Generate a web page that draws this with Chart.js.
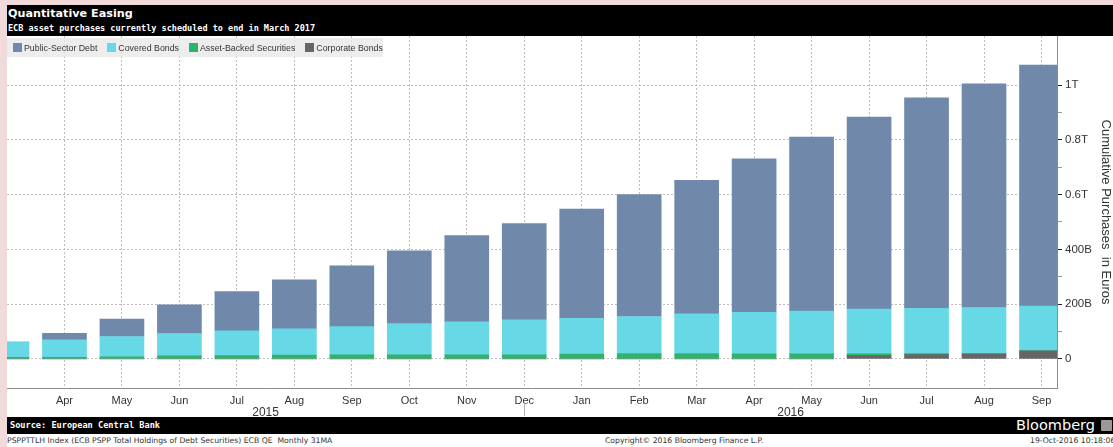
<!DOCTYPE html>
<html>
<head>
<meta charset="utf-8">
<title>Quantitative Easing</title>
<script src="https://cdn.jsdelivr.net/npm/chart.js@4.4.1/dist/chart.umd.min.js"></script>
<style>
  html, body { margin: 0; padding: 0; }
  body { width: 1113px; height: 447px; background: #f1dada; position: relative; overflow: hidden; font-family: "Liberation Sans", Arial, sans-serif; }
  .abs { position: absolute; }
  #titleBar { left: 7px; top: 5px; width: 1106px; height: 31px; background: #000; color: #fff; }
  #title { left: 1px; top: 2px; font: bold 11.2px "DejaVu Sans", sans-serif; white-space: nowrap; }
  #subtitle { left: 1px; top: 18px; font: bold 8.5px "DejaVu Sans Mono", monospace; white-space: nowrap; }
  #plot { left: 7px; top: 36px; width: 1106px; height: 381px; background: #fff; }
  #plot canvas { display: block; }
  #legend { left: 7px; top: 38px; width: 376px; height: 19px; background: rgba(232,232,232,0.8); display: flex; align-items: center; font-size: 8.8px; color: #333; white-space: nowrap; }
  #legend .item { display: flex; align-items: center; margin-left: 10px; }
  #legend .item:first-child { margin-left: 6px; }
  #legend .sw { width: 9px; height: 9px; margin-right: 2px; }
  #footer { left: 7px; top: 417px; width: 1106px; height: 17px; background: #000; color: #fff; }
  #source { left: 3px; top: 0; font: bold 8.6px/17px "DejaVu Sans Mono", monospace; white-space: nowrap; }
  #brand { right: 18px; top: 0; font: 14.5px/17px "DejaVu Sans", sans-serif; white-space: nowrap; }
  #icon { right: 1px; top: 3px; width: 11px; height: 11px; background: #9a9a9a; border-radius: 1px; }
  #bottomRow { left: 7px; top: 434px; width: 1106px; height: 13px; background: #fff; color: #333; font: 7.7px/13px "DejaVu Sans", sans-serif; white-space: nowrap; }
  #bottomRow span { position: absolute; top: 0; }
</style>
</head>
<body>
<div id="titleBar" class="abs">
  <div id="title" class="abs">Quantitative Easing</div>
  <div id="subtitle" class="abs">ECB asset purchases currently scheduled to end in March 2017</div>
</div>
<div id="plot" class="abs"><canvas id="qe" width="1106" height="381"></canvas></div>
<div id="legend" class="abs"></div>
<div id="footer" class="abs">
  <div id="source" class="abs">Source: European Central Bank</div>
  <div id="brand" class="abs">Bloomberg</div>
  <div id="icon" class="abs"></div>
</div>
<div id="bottomRow" class="abs">
  <span style="left:0">PSPPTTLH Index (ECB PSPP Total Holdings of Debt Securities) ECB QE&nbsp; Monthly 31MA</span>
  <span style="left:598px">Copyright© 2016 Bloomberg Finance L.P.</span>
  <span style="left:1023px">19-Oct-2016 10:18:06</span>
</div>
<script>
// month ticks, Mar 2015 .. Sep 2016
const months = ['Mar', 'Apr', 'May', 'Jun', 'Jul', 'Aug', 'Sep', 'Oct', 'Nov', 'Dec',
  'Jan', 'Feb', 'Mar', 'Apr', 'May', 'Jun', 'Jul', 'Aug', 'Sep'];
const years = ['2015', '2016'];
const yearBreak = 9; // year divider sits on the Dec 2015 tick

// cumulative holdings, EUR billions
const publicSector = [0, 24, 64, 105, 143, 179, 222, 266, 314, 351, 399, 445, 487, 561, 635, 701, 768, 816, 880];
const coveredBonds = [56, 64, 74, 82, 91, 96, 103, 114, 121, 128, 130, 135, 145, 151, 156, 163, 165, 169, 163];
const assetBacked = [6, 6, 8, 11, 12, 14, 15, 15, 15, 15, 18, 20, 20, 19, 19, 7, 4, 0, 0];
const corporate = [0, 0, 0, 0, 0, 0, 0, 0, 0, 0, 0, 0, 0, 0, 0, 12, 16, 19, 30];

const yTickValues = [0, 200, 400, 600, 800, 1000];
const yTickLabels = ['0', '200B', '400B', '0.6T', '0.8T', '1T'];

// bottom of the stack first
const series = [
  { name: 'Corporate Bonds', color: '#666666', values: corporate },
  { name: 'Asset-Backed Securities', color: '#2db36a', values: assetBacked },
  { name: 'Covered Bonds', color: '#66d8e6', values: coveredBonds },
  { name: 'Public-Sector Debt', color: '#7089ab', values: publicSector },
];

const FONT = '"Liberation Sans", Arial, sans-serif';
const GRID = '#bdbdbd';
const NONE = 'rgba(0,0,0,0)';

const yearAxis = {
  id: 'yearAxis',
  afterDraw(chart) {
    const { ctx } = chart;
    const x = chart.scales.x;
    const edges = [x.min, yearBreak, x.max].map((v) => x.getPixelForValue(v));
    ctx.save();
    ctx.font = '12px ' + FONT;
    ctx.fillStyle = '#333';
    ctx.textAlign = 'center';
    ctx.textBaseline = 'middle';
    years.forEach((y, i) => ctx.fillText(y, (edges[i] + edges[i + 1]) / 2, x.bottom - 4));
    ctx.strokeStyle = '#b0b0b0';
    ctx.lineWidth = 1;
    ctx.beginPath();
    ctx.moveTo(Math.round(edges[1]) + 0.5, x.top + 14);
    ctx.lineTo(Math.round(edges[1]) + 0.5, x.bottom - 1);
    ctx.stroke();
    ctx.restore();
  },
};

const chart = new Chart(document.getElementById('qe').getContext('2d'), {
  type: 'bar',
  data: {
    datasets: series.map((s) => ({
      label: s.name,
      data: s.values.map((v, i) => ({ x: i, y: v })),
      backgroundColor: s.color,
      borderWidth: 0,
      barThickness: 44,
    })),
  },
  options: {
    responsive: false,
    animation: false,
    layout: { padding: 0 },
    plugins: { legend: { display: false }, tooltip: { enabled: false } },
    scales: {
      x: {
        type: 'linear',
        stacked: true,
        offset: false,
        min: 0,
        max: 18.27,
        afterBuildTicks: (s) => { s.ticks = months.map((m, i) => ({ value: i })); },
        afterFit: (s) => { s.height = 29; s.paddingLeft = 0; s.paddingRight = 0; },
        ticks: {
          autoSkip: false,
          maxRotation: 0,
          padding: 6,
          color: '#333',
          font: { family: FONT, size: 11 },
          callback: (v) => (v === 0 ? '' : months[v]),
        },
        grid: {
          offset: false,
          drawTicks: false,
          color: (c) => (c.tick && c.tick.value === 0 ? NONE : GRID),
        },
        border: { color: '#8c8c8c', width: 1, dash: [2, 2] },
      },
      y: {
        position: 'right',
        stacked: true,
        min: -106,
        max: 1179,
        afterBuildTicks: (s) => {
          s.ticks = [];
          for (let v = 0; v <= 1000; v += 100) s.ticks.push({ value: v });
        },
        afterFit: (s) => { s.width = 56; s.paddingTop = 0; s.paddingBottom = 0; },
        ticks: {
          padding: 3,
          color: '#333',
          font: { family: FONT, size: 11.5 },
          callback: (v) => {
            const k = yTickValues.indexOf(v);
            return k >= 0 ? yTickLabels[k] : '';
          },
        },
        grid: {
          tickLength: 5,
          tickBorderDash: [],
          color: (c) => (c.tick && yTickValues.includes(c.tick.value) ? GRID : NONE),
          tickColor: (c) => (c.tick && yTickValues.includes(c.tick.value) ? '#222' : '#999'),
        },
        border: { color: '#8c8c8c', width: 1, dash: [2, 2] },
        title: {
          display: true,
          text: 'Cumulative Purchases  in Euros',
          color: '#333',
          font: { family: FONT, size: 13 },
          padding: { top: 0, bottom: 0 },
        },
      },
    },
  },
  plugins: [yearAxis],
});

// legend in the reference's order: top of the stack first
const legend = document.getElementById('legend');
chart.data.datasets.slice().reverse().forEach((ds) => {
  const item = document.createElement('div');
  item.className = 'item';
  const sw = document.createElement('span');
  sw.className = 'sw';
  sw.style.background = ds.backgroundColor;
  item.appendChild(sw);
  item.appendChild(document.createTextNode(ds.label));
  legend.appendChild(item);
});
</script>
</body>
</html>
